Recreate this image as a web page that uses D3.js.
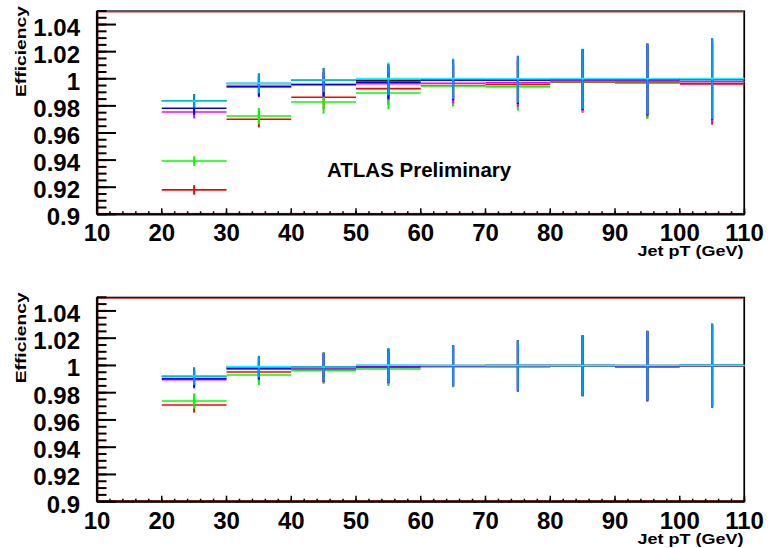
<!DOCTYPE html>
<html><head><meta charset="utf-8">
<script src="https://cdn.jsdelivr.net/npm/d3@7"></script>
<style>
body{margin:0;background:#fff}
svg{display:block;background:#fff}
text{font-family:"Liberation Sans",Arial,Helvetica,sans-serif;font-weight:bold;fill:#000}
</style>
</head><body>
<svg id="c" width="770" height="548"></svg>
<script>
// ---------------- data ----------------
const binEdges = [20, 30, 40, 50, 60, 70, 80, 90, 100, 110];
const xTicks = [10, 20, 30, 40, 50, 60, 70, 80, 90, 100, 110];
const xTickLabels = ["10","20","30","40","50","60","70","80","90","100","110"];
const yTicks = [0.9, 0.92, 0.94, 0.96, 0.98, 1.0, 1.02, 1.04];
const yTickLabels = ["0.9","0.92","0.94","0.96","0.98","1","1.02","1.04"];
const seriesKeys = ["black", "red", "green", "magenta", "blue", "cyan"];

// top panel efficiencies (per bin 20-30 ... 100-110)
const topBlack   = [0.9838, 0.9965, 0.9990, 0.9989, 0.9995, 0.9990, 0.9995, 0.9997, 0.9999];
const topRed     = [0.9180, 0.9701, 0.9864, 0.9927, 0.9950, 0.9958, 0.9974, 0.9975, 0.9962];
const topGreen   = [0.9393, 0.9725, 0.9829, 0.9895, 0.9947, 0.9942, 0.9978, 0.9967, 0.9980];
const topBlue    = [0.9782, 0.9944, 0.9958, 0.9975, 0.9990, 0.9990, 0.9995, 0.9995, 0.9995];
const topMagenta = [0.9755, 0.9939, 0.9957, 0.9964, 0.9967, 0.9971, 0.9986, 0.9986, 0.9979];
const topCyan    = [0.9836, 0.9967, 0.9991, 1.0001, 1.0001, 1.0000, 1.0001, 1.0000, 1.0001];
const topErr     = [0.0048, 0.0075, 0.0090, 0.0123, 0.0150, 0.0177, 0.0224, 0.0264, 0.0300];
const topErrRG   = [0.0035, 0.0060, 0.0087, 0.0120, 0.0150, 0.0177, 0.0224, 0.0264, 0.0300];

// bottom panel efficiencies
const botBlack   = [0.9921, 0.9990, 0.9990, 1.0000, 1.0000, 1.0000, 1.0000, 1.0000, 1.0001];
const botRed     = [0.9710, 0.9952, 0.9972, 0.9985, 0.9992, 0.9990, 0.9995, 0.9989, 0.9996];
const botGreen   = [0.9739, 0.9930, 0.9964, 0.9974, 0.9990, 0.9994, 0.9995, 0.9995, 0.9997];
const botBlue    = [0.9903, 0.9978, 0.9985, 0.9998, 0.9998, 0.9999, 0.9999, 0.9998, 0.9999];
const botMagenta = [0.9896, 0.9975, 0.9982, 0.9995, 0.9997, 0.9998, 0.9998, 0.9997, 0.9998];
const botCyan    = [0.9923, 0.9991, 0.9988, 1.0001, 0.9999, 1.0000, 1.0000, 1.0000, 1.0001];
const botErr     = [0.0065, 0.0080, 0.0106, 0.0125, 0.0150, 0.0185, 0.0222, 0.0255, 0.0306];
const botErrRG   = [0.0056, 0.0075, 0.0100, 0.0125, 0.0150, 0.0185, 0.0222, 0.0255, 0.0306];

const xTitle = "Jet pT (GeV)";
const yTitle = "Efficiency";
const label = "ATLAS Preliminary";

// ---------------- style / layout ----------------
const colors = {black:"#000000", red:"#ff0000", green:"#00ff00", blue:"#0000ff", magenta:"#ff00ff", cyan:"#00ffff"};
const X0 = 97, X1 = 744.5;
const panels = [
  {top: 11, bottom: 214.3, label: true,
   vals: {black: topBlack, red: topRed, green: topGreen, blue: topBlue, magenta: topMagenta, cyan: topCyan},
   err: {black: topErr, red: topErrRG, green: topErrRG, blue: topErr, magenta: topErr, cyan: topErr}},
  {top: 297.3, bottom: 501.7, label: false,
   vals: {black: botBlack, red: botRed, green: botGreen, blue: botBlue, magenta: botMagenta, cyan: botCyan},
   err: {black: botErr, red: botErrRG, green: botErrRG, blue: botErr, magenta: botErr, cyan: botErr}}
];

const svg = d3.select("#c");
const x = d3.scaleLinear().domain([10, 110]).range([X0, X1]);

panels.forEach(p => {
  const y = d3.scaleLinear().domain([0.9, 1.05]).range([p.bottom, p.top]);
  const g = svg.append("g");

  // frame
  g.append("rect").attr("x", X0).attr("y", p.top).attr("width", X1 - X0).attr("height", p.bottom - p.top)
    .attr("fill", "#fff").attr("stroke", "#000").attr("stroke-width", 1.2);
  g.append("rect").attr("x", X0 + 1).attr("y", p.top + 1).attr("width", X1 - X0 - 2).attr("height", p.bottom - p.top - 2)
    .attr("fill", "none").attr("stroke", "#c00000").attr("stroke-width", 0.8);

  // data
  const plot = g.append("g");
  seriesKeys.forEach(k => {
    const vals = p.vals[k], errs = p.err[k];
    const sg = plot.append("g").attr("stroke", colors[k]).attr("stroke-width", 1.6).attr("fill", "none");
    vals.forEach((v, i) => {
      const lo = binEdges[i], hi = binEdges[i + 1], c = (lo + hi) / 2;
      sg.append("line").attr("x1", x(lo)).attr("x2", x(hi)).attr("y1", y(v)).attr("y2", y(v));
      sg.append("line").attr("x1", x(c)).attr("x2", x(c)).attr("y1", y(v - errs[i])).attr("y2", y(v + errs[i]))
        .attr("stroke-width", 2).attr("stroke-opacity", k === "cyan" ? 0.6 : 1);
    });
  });

  // y axis ticks (inward)
  const yMinor = d3.range(0, 31).map(i => 0.9 + i * 0.005).filter(v => v <= 1.0501);
  g.selectAll(".ym").data(yMinor).enter().append("line")
    .attr("x1", X0).attr("x2", X0 + 9.5).attr("y1", d => y(d)).attr("y2", d => y(d))
    .attr("stroke", "#000").attr("stroke-width", 2);
  g.selectAll(".yM").data(yTicks).enter().append("line")
    .attr("x1", X0).attr("x2", X0 + 19).attr("y1", d => y(d)).attr("y2", d => y(d))
    .attr("stroke", "#000").attr("stroke-width", 2);
  g.selectAll(".yl").data(yTicks).enter().append("text")
    .attr("x", X0 - 17).attr("y", (d) => y(d) + 11).attr("text-anchor", "end")
    .attr("font-size", 24).text((d, i) => yTickLabels[i]);

  // x axis ticks
  const xMinor = d3.range(10, 111, 2);
  g.selectAll(".xm").data(xMinor).enter().append("line")
    .attr("x1", d => x(d)).attr("x2", d => x(d)).attr("y1", p.bottom).attr("y2", p.bottom - 3)
    .attr("stroke", "#000").attr("stroke-width", 1.5);
  g.selectAll(".xM").data(xTicks).enter().append("line")
    .attr("x1", d => x(d)).attr("x2", d => x(d)).attr("y1", p.bottom).attr("y2", p.bottom - 6)
    .attr("stroke", "#000").attr("stroke-width", 1.5);
  g.selectAll(".xl").data(xTicks).enter().append("text")
    .attr("x", d => x(d)).attr("y", p.bottom + 27).attr("text-anchor", "middle")
    .attr("font-size", 24).text((d, i) => xTickLabels[i]);

  // axis lines
  g.append("line").attr("x1", X0).attr("x2", X0).attr("y1", p.top).attr("y2", p.bottom).attr("stroke", "#000").attr("stroke-width", 2.2);
  g.append("line").attr("x1", X0).attr("x2", X1).attr("y1", p.bottom).attr("y2", p.bottom).attr("stroke", "#000").attr("stroke-width", 2.2);

  // titles
  g.append("text").attr("x", X1 - 1).attr("y", p.bottom + 42).attr("text-anchor", "end")
    .attr("font-size", 15).attr("textLength", 106).attr("lengthAdjust", "spacingAndGlyphs").text(xTitle);
  g.append("text").attr("transform", `translate(26,${p.top - 5}) rotate(-90)`).attr("text-anchor", "end")
    .attr("font-size", 15).attr("textLength", 91).attr("lengthAdjust", "spacingAndGlyphs").text(yTitle);

  if (p.label) {
    g.append("text").attr("x", 327).attr("y", 176.5).attr("font-size", 20.5).text(label);
  }
});
</script>
</body></html>
